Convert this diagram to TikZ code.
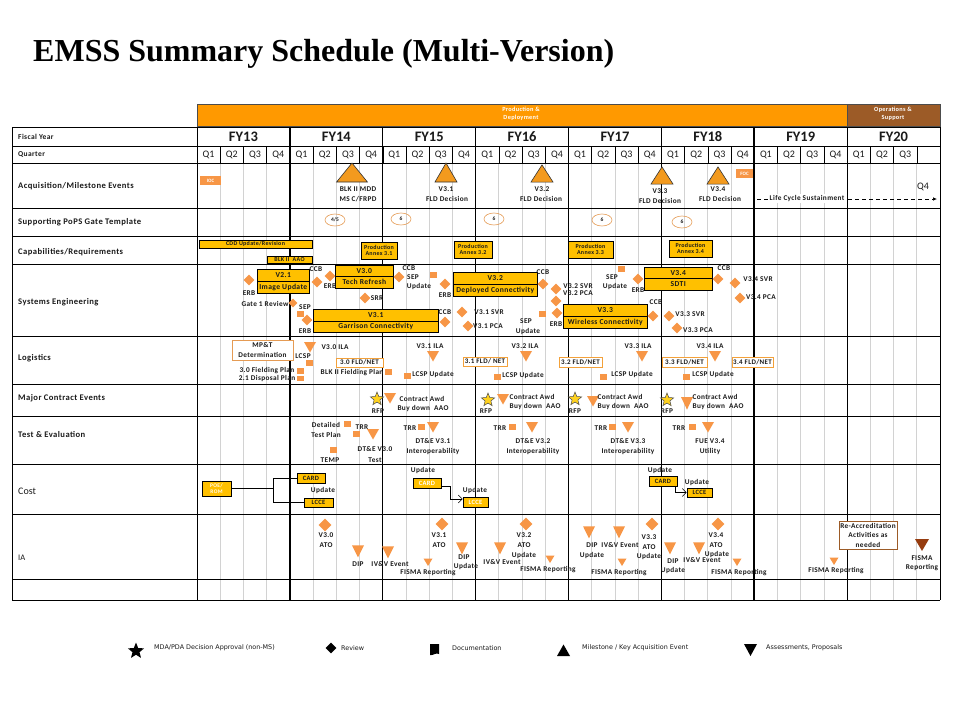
\documentclass[tikz,border=0pt]{standalone}
\usepackage{fontspec}
\setmainfont{Carlito}
\newfontfamily\titlefont{Liberation Serif}
\newfontfamily\lsf[LetterSpace=5]{Carlito}
\newfontfamily\lgf{DejaVu Sans}
\usetikzlibrary{shapes.geometric,arrows.meta}
\definecolor{phase}{HTML}{FF9900}
\definecolor{opsb}{HTML}{9C5B27}
\definecolor{gold}{HTML}{FFC000}
\definecolor{dm}{HTML}{F79646}
\definecolor{acq}{HTML}{F39A1E}
\definecolor{ellc}{HTML}{E59B54}
\definecolor{fldb}{HTML}{F3A13A}
\definecolor{darktri}{HTML}{963C0F}
\definecolor{gridg}{HTML}{D2D2D2}
\definecolor{txt}{HTML}{1A1A1A}
\definecolor{staryel}{HTML}{FFD21F}
\tikzset{
  lb/.style={font=\lsf\fontsize{7.3}{8}\selectfont\bfseries,inner sep=0pt,text=txt},
  lgt/.style={font=\lgf\fontsize{6.4}{8}\selectfont,inner sep=0pt,anchor=west,text=txt},
  rowlab/.style={font=\lsf\fontsize{8.6}{10}\selectfont\bfseries,anchor=west,inner sep=0pt,text=txt},
  qlab/.style={font=\fontsize{10}{12}\selectfont,inner sep=0pt,text=txt},
  fylab/.style={font=\fontsize{14.5}{16}\selectfont\bfseries,inner sep=0pt,text=txt},
  dmd/.style={diamond,fill=dm,minimum size=11pt,inner sep=0pt},
  docm/.style={rectangle,fill=dm,minimum width=7pt,minimum height=5.5pt,inner sep=0pt},
  gbox/.style={rectangle,fill=gold,draw=black,line width=0.6pt,inner sep=0pt,font=\lsf\fontsize{7.6}{8}\selectfont\bfseries,text=txt},
  tbox/.style={rectangle,fill=gold,draw=black,line width=0.6pt,inner sep=0pt,font=\lsf\fontsize{6}{6.8}\selectfont\bfseries,text=txt,align=center},
  cbox/.style={rectangle,fill=gold,draw=black,line width=0.6pt,inner sep=0pt,font=\lsf\fontsize{6.5}{7}\selectfont\bfseries,text=txt,align=center},
  obox/.style={rectangle,fill=dm,inner sep=0pt,font=\fontsize{5}{5}\selectfont\bfseries,text=white},
  fbox/.style={rectangle,fill=white,draw=fldb,line width=0.8pt,inner sep=0pt,font=\lsf\fontsize{7}{7}\selectfont\bfseries,text=txt},
  popsell/.style={ellipse,draw=ellc,line width=0.6pt,minimum width=20pt,minimum height=12pt,inner sep=0pt,font=\fontsize{5.5}{5.5}\selectfont\bfseries,text=txt},
  rfpstar/.style={star,star points=5,star point ratio=2.3,fill=staryel,draw=black!70,line width=0.5pt,minimum size=14pt,inner sep=0pt},
  pics/tdn/.style={code={\fill[dm] (-6,-5)--(6,-5)--(0,5.5)--cycle;}},
  pics/tsm/.style={code={\fill[dm] (-4.5,-3.5)--(4.5,-3.5)--(0,4)--cycle;}},
  pics/acqtri/.style={code={\filldraw[fill=acq,draw=black!80,line width=0.6pt] (-11,9.5)--(0,-9.5)--(11,9.5)--cycle;}},
  arr/.style={line width=0.6pt,-{Straight Barb[length=4pt,width=8pt]}},
}
\newcommand\Tx[4][]{\node[lb,#1] (#2) at (#3) {#4};}
\newcommand\Dm[3][]{\node[dmd,#1] (#2) at (#3) {};}
\newcommand\Dc[2]{\node[docm] (#1) at (#2) {};}
\newcommand\Tdn[3][]{\pic[#1] (#2) at (#3) {tdn};}
\newcommand\Tsm[2]{\pic (#1) at (#2) {tsm};}
\newcommand\Vbx[8]{%
  \node[gbox,anchor=north west,minimum width={(#4)-(#2)},minimum height={(#5)-(#3)}] (#1a) at (#2,#3) {#7};
  \node[gbox,anchor=north west,minimum width={(#4)-(#2)},minimum height={(#6)-(#5)}] (#1b) at (#2,#5) {#8};}
\begin{document}
\begin{tikzpicture}[x=1pt,y=-1pt]
\useasboundingbox (0,0) rectangle (960,720);
\fill[white] (0,0) rectangle (960,720);
% title
\node[anchor=base west,inner sep=0pt,font=\titlefont\fontsize{32}{36}\selectfont\bfseries] (title) at (33,61) {EMSS Summary Schedule (Multi-Version)};
% phase bar
\node[rectangle,fill=phase,draw=black!70,line width=0.5pt,anchor=north west,minimum width=650pt,minimum height=22pt,inner sep=0pt] (pd) at (197,104) {};
\node[rectangle,fill=opsb,draw=black!70,line width=0.5pt,anchor=north west,minimum width=93pt,minimum height=22pt,inner sep=0pt] (os) at (847,104) {};
\node[font=\lsf\fontsize{6.3}{8.5}\selectfont\bfseries,text=white,align=center,inner sep=0pt] (pdt) at (521,114) {Production \&\\Deployment};
\node[font=\lsf\fontsize{6.3}{8.5}\selectfont\bfseries,text=white,align=center,inner sep=0pt] (ost) at (893,114) {Operations \&\\Support};
% grid
\foreach \ii in {1,...,31} \draw[gridg,line width=0.8pt] ({197+\ii*23.22},163) -- ({197+\ii*23.22},600);
\foreach \ii in {1,...,31} \draw[black,line width=0.5pt] ({197+\ii*23.22},146) -- ({197+\ii*23.22},163);
\foreach \ii in {1,...,7} \draw[black,line width=0.8pt] ({197+\ii*92.875},127) -- ({197+\ii*92.875},600);
\draw[black,line width=2.2pt] (290,127) -- (290,600);
\draw[black,line width=2.2pt] (754.3,127) -- (754.3,600);
\foreach \yy in {127,146,163,208,236,264,336,384,416,464,514,579,600} \draw[black,line width=0.8pt] (12,\yy) -- (940,\yy);
\draw[black,line width=0.8pt] (12,127) -- (12,600);
\draw[black,line width=0.8pt] (197,127) -- (197,600);
\draw[black,line width=0.8pt] (940,127) -- (940,600);
% headers
\foreach \ii/\ll in {0/FY13,1/FY14,2/FY15,3/FY16,4/FY17,5/FY18,6/FY19,7/FY20} \node[fylab] (fy\ii) at ({197+(\ii+0.5)*92.875},136.5) {\ll};
\foreach \ii in {0,...,6}{\foreach \qq in {1,...,4}{\node[qlab] (q\ii\qq) at ({197+(\ii*4+\qq-0.5)*23.22},155) {Q\qq};}}
\foreach \qq in {1,2,3}{\node[qlab] (q7\qq) at ({197+(28+\qq-0.5)*23.22},155) {Q\qq};}
% row labels
\node[rowlab,font=\lsf\fontsize{7.5}{9}\selectfont\bfseries] (rfy) at (18,136.5) {Fiscal Year};
\node[rowlab,font=\lsf\fontsize{7.5}{9}\selectfont\bfseries] (rq) at (18,155) {Quarter};
\node[rowlab] (racq) at (18,186) {Acquisition/Milestone Events};
\node[rowlab] (rpops) at (18,222) {Supporting PoPS Gate Template};
\node[rowlab] (rcap) at (18,252) {Capabilities/Requirements};
\node[rowlab] (rse) at (18,302) {Systems Engineering};
\node[rowlab] (rlog) at (18,358) {Logistics};
\node[rowlab] (rmce) at (18,398) {Major Contract Events};
\node[rowlab] (rte) at (18,435) {Test \& Evaluation};
\node[rowlab,font=\fontsize{10}{12}\selectfont] (rcost) at (18,491) {Cost};
\node[rowlab,font=\fontsize{8.5}{10}\selectfont] (ria) at (18,558) {IA};
% ---------- Acquisition ----------
\node[obox,minimum width=21pt,minimum height=9pt] (ioc) at (210.5,180.5) {IOC};
\pic[xscale=1.4] (t1) at (352,172.5) {acqtri};
\pic (t2) at (446,172.5) {acqtri};
\pic[yscale=0.9] (t3) at (542,173.5) {acqtri};
\pic[yscale=0.9] (t4) at (662,175.5) {acqtri};
\pic[yscale=0.9] (t5) at (718,175.5) {acqtri};
\Tx{a1}{358,189}{BLK II MDD}
\Tx{a2}{358,199}{MS C/FRPD}
\Tx{a3}{446,189}{V3.1}
\Tx{a4}{447,199}{FLD Decision}
\Tx{a5}{542,189}{V3.2}
\Tx{a6}{541,199}{FLD Decision}
\Tx{a7}{660,191}{V3.3}
\Tx{a8}{660,201}{FLD Decision}
\Tx{a9}{718,189}{V3.4}
\Tx{a10}{720,199}{FLD Decision}
\node[obox,minimum width=17pt,minimum height=9pt] (foc) at (744.5,173.5) {FOC};
\coordinate (lcs0) at (757,199);
\coordinate (lcs1) at (937,199);
\draw[line width=0.7pt,dash pattern=on 4pt off 3pt,-{Latex[length=4pt,width=3.5pt]}] (lcs0) -- (lcs1);
\Tx[fill=white,inner xsep=1.5pt,inner ysep=1pt]{lcst}{807,198.5}{Life Cycle Sustainment}
\node[qlab] (q74) at (923,187) {Q4};
% ---------- PoPS ----------
\node[popsell] (p1) at (335,220) {4/5};
\node[popsell] (p2) at (401,219) {6};
\node[popsell] (p3) at (494,219) {6};
\node[popsell] (p4) at (602,220) {6};
\node[popsell] (p5) at (682,222) {6};
% ---------- Capabilities ----------
\node[tbox,minimum width=113pt,minimum height=8pt] (cdd) at (255.5,244) {CDD Update/Revision};
\node[tbox,minimum width=45pt,minimum height=7pt] (aao) at (289.5,259.5) {BLK II\ \ AAO};
\node[tbox,minimum width=36pt,minimum height=17pt] (pa31) at (379,250.5) {Production\\Annex 3.1};
\node[tbox,minimum width=38pt,minimum height=17pt] (pa32) at (473,249.5) {Production\\Annex 3.2};
\node[tbox,minimum width=45pt,minimum height=17pt] (pa33) at (590.5,249.5) {Production\\Annex 3.3};
\node[tbox,minimum width=43pt,minimum height=17pt] (pa34) at (690.5,248.5) {Production\\Annex 3.4};
% ---------- Systems Engineering ----------
\Vbx{v21}{257}{269}{309}{281}{293}{V2.1}{Image Update}
\Vbx{v30}{335}{265}{393}{276}{288}{V3.0}{Tech Refresh}
\Vbx{v32}{453}{272}{537}{284}{296}{V3.2}{Deployed Connectivity}
\Vbx{v31}{313}{309}{438}{321}{332}{V3.1}{Garrison Connectivity}
\Vbx{v33}{563}{304}{647}{316}{328}{V3.3}{Wireless Connectivity}
\Vbx{v34}{644}{267}{712}{278}{290}{V3.4}{SDTI}
\Dm{d1}{249,280}
\Dm[minimum size=9pt]{d2}{293,303}
\Dm{d3}{317,282}
\Dm{d4}{330,276}
\Dm{d5}{399,277}
\Dm{d6}{445,284}
\Dm{d7}{365,298}
\Dm{d8}{307,320}
\Dm{d9}{445,322}
\Dm{d10}{462,312}
\Dm{d11}{468,326}
\Dm{d12}{543,284}
\Dm{d13}{556,289}
\Dm{d14}{556,301}
\Dm{d15}{557,313}
\Dm{d16}{653,316}
\Dm{d17}{669,316}
\Dm{d18}{677,328}
\Dm{d19}{638,279}
\Dm{d20}{718,279}
\Dm{d21}{735,283}
\Dm{d22}{740,298}
\Dc{c1}{433,275}
\Dc{c2}{300,314}
\Dc{c3}{542,314}
\Dc{c4}{621,269}
\Tx{s1}{249,293}{ERB}
\Tx{s2}{265,304}{Gate 1 Review}
\Tx{s3}{316,269}{CCB}
\Tx{s4}{330,286}{ERB}
\Tx{s5}{409,268}{CCB}
\Tx{s6}{413,277}{SEP}
\Tx{s7}{419,287}{Update}
\Tx{s8}{445,295}{ERB}
\Tx{s9}{377,298}{SRR}
\Tx{s10}{305,307}{SEP}
\Tx{s11}{305,331}{ERB}
\Tx{s12}{445,312}{CCB}
\Tx{s13}{489,312}{V3.1 SVR}
\Tx{s14}{488,326}{V3.1 PCA}
\Tx{s15}{543,272}{CCB}
\Tx{s16}{578,286}{V3.2 SVR}
\Tx{s17}{578,293.5}{V3.2 PCA}
\Tx{s18}{526,321}{SEP}
\Tx{s19}{528,332}{Update}
\Tx{s20}{556,324}{ERB}
\Tx{s21}{656,302}{CCB}
\Tx{s22}{690,314}{V3.3 SVR}
\Tx{s23}{698,330}{V3.3 PCA}
\Tx{s24}{612,277}{SEP}
\Tx{s25}{615,287}{Update}
\Tx{s26}{638,290}{ERB}
\Tx{s27}{724,268}{CCB}
\Tx{s28}{758,279}{V3.4 SVR}
\Tx{s29}{761,297}{V3.4 PCA}
% ---------- Logistics ----------
\node[rectangle,fill=white,draw=ellc,line width=0.7pt,minimum width=61pt,minimum height=20pt,inner sep=0pt,align=center,font=\lsf\fontsize{7.3}{9.5}\selectfont\bfseries,text=txt] (mpt) at (262.5,350) {MP\&T\\Determination};
\Tdn{l1}{310,347}
\Tx{l2}{335,347}{V3.0 ILA}
\Tx{l3}{303,356}{LCSP}
\Dc{l4}{309,363}
\node[fbox,minimum width=47pt,minimum height=9pt] (f30) at (359.5,362.5) {3.0 FLD/NET};
\Tx{l5}{352,373}{BLK II Fielding Plan}
\Dc{l6}{388,372}
\Tx{l7}{267,371}{3.0 Fielding Plan}
\Dc{l8}{300,371}
\Tx{l9}{267,378.5}{2.1 Disposal Plan}
\Dc{l10}{300,378.5}
\Tx{l11}{430,346}{V3.1 ILA}
\Tdn{l12}{433,356}
\Dc{l13}{407,376}
\Tx{l14}{433,375}{LCSP Update}
\node[fbox,minimum width=44pt,minimum height=9pt] (f31) at (485,361.5) {3.1 FLD/ NET};
\Tx{l15}{525,346}{V3.2 ILA}
\Tdn{l16}{526,356}
\Dc{l17}{497,377}
\Tx{l18}{523,376}{LCSP Update}
\node[fbox,minimum width=43pt,minimum height=10pt] (f32) at (580.5,362) {3.2 FLD/NET};
\Tx{l19}{638,346}{V3.3 ILA}
\Tdn{l20}{642,356}
\Dc{l21}{603,377}
\Tx{l22}{632,375}{LCSP Update}
\node[fbox,minimum width=45pt,minimum height=10pt] (f33) at (684.5,362) {3.3 FLD/NET};
\Tx{l23}{710,346}{V3.4 ILA}
\Tdn{l24}{715,356}
\Dc{l25}{686,377}
\Tx{l26}{713,375}{LCSP Update}
\node[fbox,minimum width=41pt,minimum height=10pt] (f34) at (752.5,362) {3.4 FLD/NET};
% ---------- Major contract events ----------
\node[rfpstar] (st1) at (377,399) {};
\node[rfpstar] (st2) at (488,400) {};
\node[rfpstar] (st3) at (575,399) {};
\node[rfpstar] (st4) at (667,400) {};
\Tx{m1}{378,411}{RFP}
\Tx{m2}{486,411}{RFP}
\Tx{m3}{575,411}{RFP}
\Tx{m4}{667,411}{RFP}
\Tdn{m5}{390,398}
\Tdn{m6}{503,399}
\Tdn{m7}{593,401}
\Tdn[yscale=1.2]{m8}{687,403}
\Tx{m9}{422,399}{Contract Awd}
\Tx{m10}{423,409}{Buy down\ \ AAO}
\Tx{m11}{532,397}{Contract Awd}
\Tx{m12}{535,407}{Buy down\ \ AAO}
\Tx{m13}{620,397}{Contract Awd}
\Tx{m14}{623,407}{Buy down\ \ AAO}
\Tx{m15}{715,397}{Contract Awd}
\Tx{m16}{718,407}{Buy down\ \ AAO}
% ---------- Test & Evaluation ----------
\Tx{e1}{326,425}{Detailed}
\Tx{e2}{326,435}{Test Plan}
\Dc{e3}{347,424}
\Dc{e4}{356,434}
\Tx{e5}{362,427}{TRR}
\Tdn{e6}{373,434}
\Tx{e7}{375,449}{DT\&E V3.0}
\Tx{e8}{375,460}{Test}
\Dc{e9}{333,450}
\Tx{e10}{330,460}{TEMP}
\Tx{e11}{410,428}{TRR}
\Dc{e12}{421,427}
\Tdn{e13}{433,427}
\Tx{e14}{433,441}{DT\&E V3.1}
\Tx{e15}{433,452}{Interoperability}
\Tx{e16}{500,428}{TRR}
\Dc{e17}{512,427}
\Tdn{e18}{532,427}
\Tx{e19}{533,441}{DT\&E V3.2}
\Tx{e20}{533,452}{Interoperability}
\Tx{e21}{601,428}{TRR}
\Dc{e22}{612,427}
\Tdn{e23}{628,427}
\Tx{e24}{628,441}{DT\&E V3.3}
\Tx{e25}{628,452}{Interoperability}
\Tx{e26}{679,428}{TRR}
\Dc{e27}{692,427}
\Tdn{e28}{708,427}
\Tx{e29}{710,441}{FUE V3.4}
\Tx{e30}{710,452}{Utility}
% ---------- Cost ----------
\node[cbox,minimum width=29pt,minimum height=15pt,text=white!92!gold,font=\lsf\fontsize{5.5}{6.5}\selectfont\bfseries] (poe) at (216.5,488.5) {POE/\\ROM};
\node[cbox,minimum width=28pt,minimum height=10pt] (card1) at (311,478) {CARD};
\node[cbox,minimum width=29pt,minimum height=9pt] (lcce1) at (318.5,502.5) {LCCE};
\Tx{k1}{323,491}{Update}
\coordinate (cj) at (273,488.5);
\draw[line width=0.6pt] (poe.east) -- (cj);
\draw[line width=0.6pt] (card1.west) -- (273,478) -- (273,502.5) -- (lcce1.west);
\Tx{k2}{423,471}{Update}
\node[cbox,minimum width=28pt,minimum height=10pt,text=white] (card2) at (427,483) {CARD};
\Tx{k3}{475,491}{Update}
\node[cbox,minimum width=25pt,minimum height=10pt,text=white] (lcce2) at (475.5,502) {LCCE};
\draw[arr] ([yshift=2pt]card2.south east) -- ++(9,0) |- ([yshift=3pt]lcce2.west);
\Tx{k4}{660,471}{Update}
\node[cbox,minimum width=28pt,minimum height=10pt] (card3) at (663,481) {CARD};
\Tx{k5}{697,483}{Update}
\node[cbox,minimum width=25pt,minimum height=9pt] (lcce3) at (699.5,492.5) {LCCE};
\draw[arr] ([xshift=-2pt]card3.south east) |- (lcce3.west);
% ---------- IA ----------
\Dm[minimum size=13pt]{i1}{325,525}
\Dm[minimum size=13pt]{i2}{442,524}
\Dm[minimum size=13pt]{i3}{526,524}
\Dm[minimum size=13pt]{i4}{652,524}
\Dm[minimum size=13pt]{i5}{718,524}
\Tx{i6}{326,535}{V3.0}
\Tx{i7}{326,545}{ATO}
\Tx{i8}{439,535}{V3.1}
\Tx{i9}{439,545}{ATO}
\Tx{i10}{524,535}{V3.2}
\Tx{i11}{524,545}{ATO}
\Tx{i12}{524,556}{Update}
\Tx{i13}{649,537}{V3.3}
\Tx{i14}{649,547}{ATO}
\Tx{i15}{649,557}{Update}
\Tx{i16}{716,535}{V3.4}
\Tx{i17}{716,545}{ATO}
\Tx{i18}{717,555}{Update}
\Tdn[yscale=1.15]{i19}{358,551}
\Tdn[yscale=1.15]{i20}{388,552}
\Tdn[yscale=1.15]{i21}{462,548}
\Tdn[yscale=1.15]{i22}{500,548}
\Tdn[yscale=1.15]{i23}{589,532}
\Tdn[yscale=1.15]{i24}{619,532}
\Tdn[yscale=1.15]{i25}{670,548}
\Tdn[yscale=1.15]{i26}{699,548}
\Tsm{i27}{428,562}
\Tsm{i28}{550,559}
\Tsm{i29}{622,562}
\Tsm{i30}{737,562}
\Tsm{i31}{834,561}
\Tx{i32}{358,564}{DIP}
\Tx{i33}{390,564}{IV\&V Event}
\Tx{i34}{428,573}{FISMA Reporting}
\Tx{i35}{464,557}{DIP}
\Tx{i36}{466,567}{Update}
\Tx{i37}{502,562}{IV\&V Event}
\Tx{i38}{548,570}{FISMA Reporting}
\Tx{i39}{592,545}{DIP}
\Tx{i40}{592,556}{Update}
\Tx{i41}{620,545}{IV\&V Event}
\Tx{i42}{619,573}{FISMA Reporting}
\Tx{i43}{673,561}{DIP}
\Tx{i44}{673,571}{Update}
\Tx{i45}{702,560}{IV\&V Event}
\Tx{i46}{739,573}{FISMA Reporting}
\Tx{i47}{836,571}{FISMA Reporting}
\node[rectangle,fill=white,draw=opsb,line width=0.7pt,minimum width=58pt,minimum height=28pt,inner sep=0pt,align=center,font=\lsf\fontsize{7.3}{9.5}\selectfont\bfseries,text=txt] (reacc) at (868,535) {Re-Accreditation\\Activities as\\needed};
\fill[darktri] (915,539) -- (929,539) -- (922,551) -- cycle;
\coordinate (fdark) at (922,545);
\Tx{i48}{922,558}{FISMA}
\Tx{i49}{922,568}{Reporting}
% ---------- Legend ----------
\node[star,star points=5,star point ratio=2.3,fill=black,minimum size=17pt,inner sep=0pt] (lg1) at (136,651) {};
\node[lgt] (lg1t) at (154,648) {MDA/PDA Decision Approval (non-MS)};
\node[diamond,fill=black,minimum size=11pt,inner sep=0pt] (lg2) at (331,648) {};
\node[lgt] (lg2t) at (341,648) {Review};
\fill[black] (430,644) -- (439,644) -- (439,654) .. controls (436,652) and (433,656) .. (430,655) -- cycle;
\coordinate (lg3) at (434,650);
\node[lgt] (lg3t) at (452,648) {Documentation};
\fill[black] (557,656) -- (570,656) -- (563.5,644.5) -- cycle;
\coordinate (lg4) at (563,651);
\node[lgt] (lg4t) at (582,648) {Milestone / Key Acquisition Event};
\fill[black] (744,644) -- (757,644) -- (750.5,656) -- cycle;
\coordinate (lg5) at (750,649);
\node[lgt] (lg5t) at (766,648) {Assessments, Proposals};
\end{tikzpicture}
\end{document}
